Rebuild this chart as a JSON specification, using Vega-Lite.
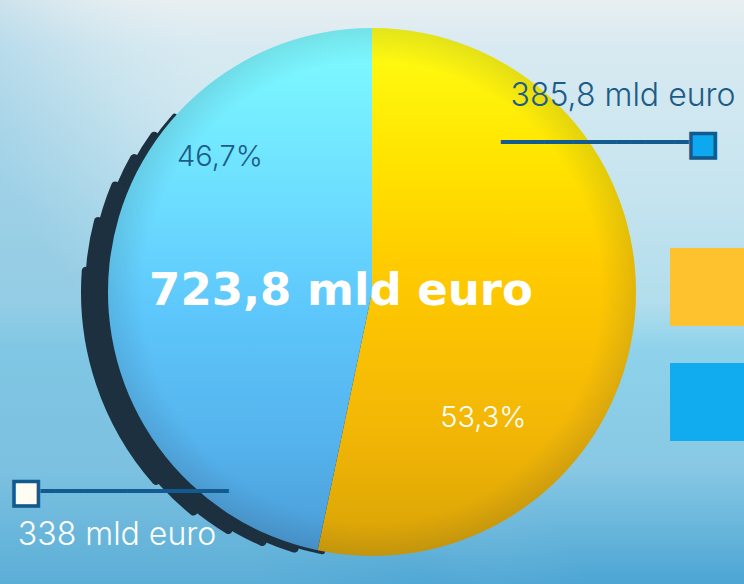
{
  "$schema": "https://vega.github.io/schema/vega-lite/v6.json",
  "width": 744,
  "height": 584,
  "padding": 0,
  "autosize": {"type": "none"},
  "background": "#dcecf2",
  "config": {"view": {"stroke": null}},
  "data": {
    "values": [
      {"segment": "A", "label": "385,8 mld euro", "value": 385.8, "pct": "53,3%"},
      {"segment": "B", "label": "338 mld euro", "value": 338, "pct": "46,7%"}
    ]
  },
  "layer": [
    {
      "transform": [{"aggregate": [{"op": "sum", "field": "value", "as": "total"}]}],
      "mark": {
        "type": "rect",
        "fill": {"gradient": "linear", "x1": 0, "y1": 0, "x2": 0, "y2": 1,
          "stops": [
            {"offset": 0, "color": "#e9eff1"},
            {"offset": 0.08, "color": "#d8eaf1"},
            {"offset": 0.3, "color": "#c8e5ef"},
            {"offset": 0.52, "color": "#b2ddec"},
            {"offset": 0.6, "color": "#8dd2ea"},
            {"offset": 0.8, "color": "#88c8e4"},
            {"offset": 1, "color": "#4ca5d3"}
          ]}
      },
      "encoding": {}
    },
    {
      "transform": [{"aggregate": [{"op": "sum", "field": "value", "as": "total"}]}],
      "mark": {
        "type": "rect",
        "fill": {"gradient": "linear", "x1": 0, "y1": 0.3, "x2": 0.6, "y2": 0,
          "stops": [
            {"offset": 0, "color": "rgba(110,185,220,0.45)"},
            {"offset": 0.3, "color": "rgba(110,185,220,0.12)"},
            {"offset": 0.6, "color": "rgba(255,255,255,0)"},
            {"offset": 1, "color": "rgba(255,255,255,0)"}
          ]}
      },
      "encoding": {}
    },
    {
      "transform": [{"aggregate": [{"op": "sum", "field": "value", "as": "total"}]}],
      "mark": {"type": "arc", "theta": 3.32, "theta2": 5.45, "radius": 267, "cornerRadius": 3, "fill": "#1c3040"},
      "encoding": {}
    },
    {
      "transform": [{"aggregate": [{"op": "sum", "field": "value", "as": "total"}]}],
      "mark": {"type": "arc", "theta": 3.42, "theta2": 5.35, "radius": 272, "cornerRadius": 4, "fill": "#1c3040"},
      "encoding": {}
    },
    {
      "transform": [{"aggregate": [{"op": "sum", "field": "value", "as": "total"}]}],
      "mark": {"type": "arc", "theta": 3.54, "theta2": 5.24, "radius": 277, "cornerRadius": 4, "fill": "#1c3040"},
      "encoding": {}
    },
    {
      "transform": [{"aggregate": [{"op": "sum", "field": "value", "as": "total"}]}],
      "mark": {"type": "arc", "theta": 3.67, "theta2": 5.12, "radius": 282, "cornerRadius": 4, "fill": "#1c3040"},
      "encoding": {}
    },
    {
      "transform": [{"aggregate": [{"op": "sum", "field": "value", "as": "total"}]}],
      "mark": {"type": "arc", "theta": 3.81, "theta2": 4.98, "radius": 287, "cornerRadius": 4, "fill": "#1c3040"},
      "encoding": {}
    },
    {
      "transform": [{"aggregate": [{"op": "sum", "field": "value", "as": "total"}]}],
      "mark": {"type": "arc", "theta": 3.98, "theta2": 4.8, "radius": 291, "cornerRadius": 4, "fill": "#1c3040"},
      "encoding": {}
    },
    {
      "mark": {"type": "arc", "radius": 0},
      "encoding": {
        "theta": {"field": "value", "type": "quantitative", "stack": true},
        "order": {"field": "value", "sort": "descending"},
        "color": {
          "field": "label", "type": "nominal",
          "scale": {"domain": ["385,8 mld euro", "338 mld euro"], "range": ["#fdc22d", "#10acef"]},
          "legend": {
            "orient": "none", "legendX": 670, "legendY": 248, "title": null,
            "symbolType": "square", "symbolSize": 6084, "symbolStrokeWidth": 0,
            "symbolOpacity": 1, "rowPadding": 37, "padding": 0,
            "labelExpr": "''", "labelFontSize": 1
          }
        }
      }
    },
    {
      "mark": {
        "type": "arc", "radius": 264,
        "fill": {"gradient": "linear", "x1": 0, "y1": 0, "x2": 0, "y2": 1,
          "stops": [
            {"offset": 0, "color": "#ffff14"},
            {"offset": 0.25, "color": "#ffe400"},
            {"offset": 0.45, "color": "#ffcb00"},
            {"offset": 0.75, "color": "#f3b706"},
            {"offset": 1, "color": "#d9a306"}
          ]}
      },
      "encoding": {
        "theta": {"field": "value", "type": "quantitative", "stack": true},
        "order": {"field": "value", "sort": "descending"},
        "detail": {"field": "label"},
        "fillOpacity": {"condition": {"test": "datum.segment === 'A'", "value": 1}, "value": 0}
      }
    },
    {
      "mark": {
        "type": "arc", "radius": 264,
        "fill": {"gradient": "linear", "x1": 0, "y1": 0, "x2": 0, "y2": 1,
          "stops": [
            {"offset": 0, "color": "#7ffdff"},
            {"offset": 0.3, "color": "#6ee0ff"},
            {"offset": 0.55, "color": "#5dc6fb"},
            {"offset": 0.8, "color": "#55b2ec"},
            {"offset": 1, "color": "#4a9cd6"}
          ]}
      },
      "encoding": {
        "theta": {"field": "value", "type": "quantitative", "stack": true},
        "order": {"field": "value", "sort": "descending"},
        "detail": {"field": "label"},
        "fillOpacity": {"condition": {"test": "datum.segment === 'B'", "value": 1}, "value": 0}
      }
    },
    {
      "transform": [{"aggregate": [{"op": "sum", "field": "value", "as": "total"}]}],
      "mark": {
        "type": "arc", "theta": 0, "theta2": 6.2832, "radius": 264,
        "fill": {"gradient": "radial", "x1": 0.5, "y1": 0.5, "r1": 0, "x2": 0.5, "y2": 0.5, "r2": 0.5,
          "stops": [
            {"offset": 0, "color": "rgba(40,50,70,0)"},
            {"offset": 0.87, "color": "rgba(40,50,70,0)"},
            {"offset": 1, "color": "rgba(40,50,70,0.13)"}
          ]}
      },
      "encoding": {}
    },
    {
      "transform": [{"aggregate": [{"op": "sum", "field": "value", "as": "total"}]}],
      "mark": {"type": "text", "text": "723,8 mld euro", "theta": 4.7447, "radius": 31, "font": "DejaVu Sans", "fontSize": 45, "fontWeight": "bold", "fill": "#ffffff"},
      "encoding": {}
    },
    {
      "mark": {"type": "text", "radius": 168, "thetaOffset": 0.7428, "font": "Inter", "fontSize": 29, "fontWeight": 300, "fill": "#ffffff"},
      "encoding": {
        "theta": {"field": "value", "type": "quantitative", "stack": true},
        "order": {"field": "value", "sort": "descending"},
        "detail": {"field": "label"},
        "text": {"condition": {"test": "datum.segment === 'A'", "field": "pct"}, "value": ""}
      }
    },
    {
      "mark": {"type": "text", "radius": 203, "thetaOffset": 0.6207, "font": "Inter", "fontSize": 29, "fontWeight": 300, "fill": "#1c5c86"},
      "encoding": {
        "theta": {"field": "value", "type": "quantitative", "stack": true},
        "order": {"field": "value", "sort": "descending"},
        "detail": {"field": "label"},
        "text": {"condition": {"test": "datum.segment === 'B'", "field": "pct"}, "value": ""}
      }
    },
    {
      "mark": {"type": "text", "radius": 318.5, "thetaOffset": -0.7669, "font": "Inter", "fontSize": 32, "fontWeight": 300, "fill": "#1c5c86"},
      "encoding": {
        "theta": {"field": "value", "type": "quantitative", "stack": true},
        "order": {"field": "value", "sort": "descending"},
        "detail": {"field": "label"},
        "text": {"condition": {"test": "datum.segment === 'A'", "field": "label"}, "value": ""}
      }
    },
    {
      "mark": {"type": "text", "radius": 352.2, "thetaOffset": -0.865, "font": "Inter", "fontSize": 32, "fontWeight": 300, "fill": "#ffffff"},
      "encoding": {
        "theta": {"field": "value", "type": "quantitative", "stack": true},
        "order": {"field": "value", "sort": "descending"},
        "detail": {"field": "label"},
        "text": {"condition": {"test": "datum.segment === 'B'", "field": "label"}, "value": ""}
      }
    },
    {
      "mark": {"type": "text", "radius": 267.8, "thetaOffset": -0.6935, "font": "DejaVu Sans Mono", "fontSize": 24, "fill": "#135b8e", "text": "━━━━━━━━━━━━━"},
      "encoding": {
        "theta": {"field": "value", "type": "quantitative", "stack": true},
        "order": {"field": "value", "sort": "descending"},
        "detail": {"field": "label"},
        "opacity": {"condition": {"test": "datum.segment === 'A'", "value": 1}, "value": 0}
      }
    },
    {
      "mark": {"type": "text", "radius": 310.5, "thetaOffset": -0.8035, "font": "DejaVu Sans Mono", "fontSize": 24, "fill": "#135b8e", "text": "━━━━━━━━━━━━━"},
      "encoding": {
        "theta": {"field": "value", "type": "quantitative", "stack": true},
        "order": {"field": "value", "sort": "descending"},
        "detail": {"field": "label"},
        "opacity": {"condition": {"test": "datum.segment === 'B'", "value": 1}, "value": 0}
      }
    },
    {
      "mark": {"type": "text", "radius": 362.6, "thetaOffset": -0.5242, "font": "DejaVu Sans", "fontSize": 32, "fill": "#0ea8f0", "stroke": "#125a8e", "strokeWidth": 3.5, "text": "■"},
      "encoding": {
        "theta": {"field": "value", "type": "quantitative", "stack": true},
        "order": {"field": "value", "sort": "descending"},
        "detail": {"field": "label"},
        "opacity": {"condition": {"test": "datum.segment === 'A'", "value": 1}, "value": 0}
      }
    },
    {
      "mark": {"type": "text", "radius": 399.6, "thetaOffset": -0.6277, "font": "DejaVu Sans", "fontSize": 32, "fill": "#fffdf3", "stroke": "#125a8e", "strokeWidth": 3.5, "text": "■"},
      "encoding": {
        "theta": {"field": "value", "type": "quantitative", "stack": true},
        "order": {"field": "value", "sort": "descending"},
        "detail": {"field": "label"},
        "opacity": {"condition": {"test": "datum.segment === 'B'", "value": 1}, "value": 0}
      }
    }
  ]
}
